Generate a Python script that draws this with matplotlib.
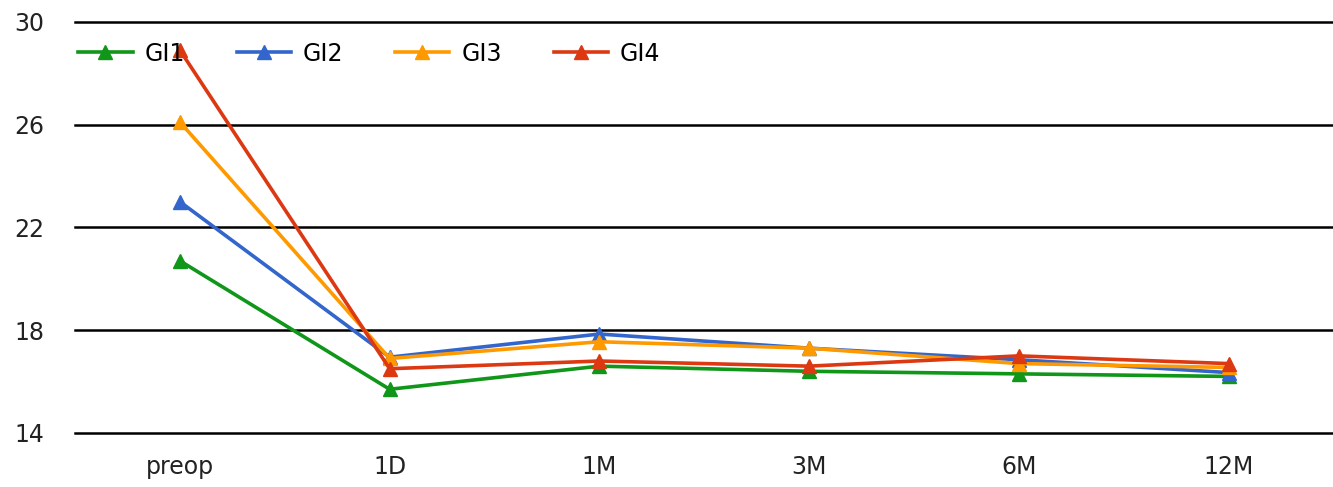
import numpy as np
import matplotlib.pyplot as plt

labels = ['preop', '1D', '1M', '3M', '6M', '12M']
gi1 = [20.7, 15.7, 16.6, 16.4, 16.3, 16.2]
gi2 = [23.0, 16.95, 17.85, 17.3, 16.85, 16.35]
gi3 = [26.1, 16.9, 17.55, 17.3, 16.7, 16.55]
gi4 = [28.9, 16.5, 16.8, 16.6, 17.0, 16.7]

series = [('GI1', gi1, '#109618'), ('GI2', gi2, '#3366cc'),
          ('GI3', gi3, '#ff9900'), ('GI4', gi4, '#dc3912')]

fig = plt.figure(figsize=(13.33, 4.87), dpi=100)
ax = fig.add_axes([0.0563, 0.111, 0.944, 0.844])
x = np.arange(len(labels))
for name, vals, col in series:
    ax.plot(x, vals, color=col, lw=2.6, marker='^', ms=10, label=name)

ax.set_xlim(-0.5, 5.5)
ax.set_ylim(14, 30)
ax.set_yticks([14, 18, 22, 26, 30])
ax.set_xticks(x)
ax.set_xticklabels(labels)
ax.yaxis.grid(True, color='black', lw=1.8)
for gl in ax.get_ygridlines():
    gl.set_clip_on(False)
ax.set_axisbelow(True)
for s in ax.spines.values():
    s.set_visible(False)
ax.tick_params(length=0, labelsize=17, colors='#222222')
ax.tick_params(axis='y', pad=22)
ax.tick_params(axis='x', pad=16)

ax.legend(loc='upper left', bbox_to_anchor=(-0.005, 0.975), ncol=4, frameon=False,
          fontsize=17, handlelength=2.3, columnspacing=2.2, handletextpad=0.5,
          borderaxespad=0.0)

fig.savefig('out.png', dpi=100)
